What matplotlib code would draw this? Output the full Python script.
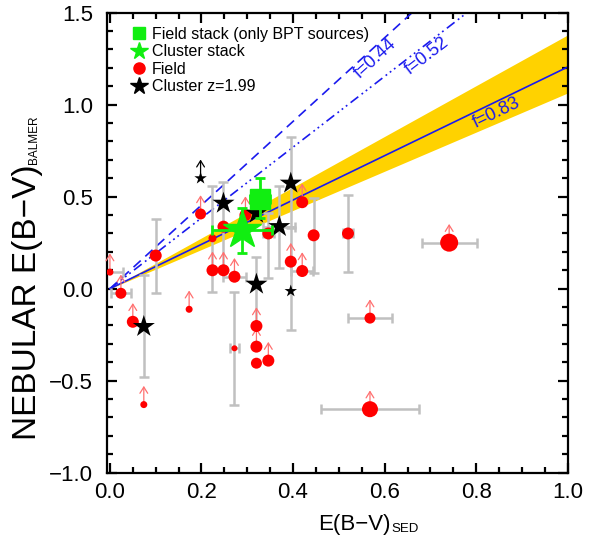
import matplotlib
matplotlib.use('Agg')
import matplotlib.pyplot as plt
import matplotlib.transforms as mtransforms
from matplotlib.lines import Line2D
from matplotlib.ticker import MultipleLocator
import numpy as np

plt.rcParams['font.family'] = ['Liberation Sans', 'DejaVu Sans']
plt.rcParams['lines.scale_dashes'] = False

# Field galaxies (red circles)
field_x = [0.000, 0.024, 0.050, 0.074, 0.100, 0.173, 0.198, 0.224, 0.224, 0.248, 0.248, 0.272, 0.272, 0.296,
           0.320, 0.320, 0.320, 0.346, 0.346, 0.395, 0.420, 0.420, 0.445, 0.520, 0.568, 0.741, 0.568]
field_y = [0.09, -0.025, -0.18, -0.63, 0.18, -0.112, 0.406, 0.274, 0.10, 0.10, 0.337, 0.065, -0.324, 0.40,
           -0.203, -0.315, -0.405, -0.391, 0.30, 0.147, 0.096, 0.47, 0.29, 0.30, -0.16, 0.25, -0.655]
field_xerr = [0.028, 0.022, 0, 0, 0, 0, 0, 0, 0, 0, 0, 0.026, 0.010, 0,
              0, 0, 0, 0, 0.012, 0, 0.024, 0, 0, 0.010, 0.049, 0.060, 0.108]
field_yerr_lo = [0, 0, 0, 0, 0.205, 0, 0, 0.290, 0, 0, 0.237, 0, 0.306, 0,
                 0, 0, 0, 0, 0.243, 0, 0, 0, 0.206, 0.21, 0, 0, 0]
field_yerr_hi = [0, 0, 0, 0, 0.200, 0, 0, 0.286, 0, 0, 0.243, 0, 0.308, 0,
                 0, 0, 0, 0, 0.110, 0, 0, 0, 0.205, 0.21, 0, 0, 0]
field_lowlim = [1, 1, 1, 1, 0, 1, 1, 0, 1, 1, 0, 1, 0, 1,
                1, 1, 0, 1, 0, 1, 1, 1, 0, 0, 1, 1, 1]
field_size = [7, 11, 12, 7, 12, 7, 11, 8, 12, 12, 12, 12, 6, 12,
              12, 12, 11, 12, 12, 12, 12, 12, 12, 12, 11, 18, 16]

# Cluster z=1.99 members (black stars)
clus_x = [0.074, 0.198, 0.248, 0.320, 0.320, 0.370, 0.395, 0.395]
clus_y = [-0.206, 0.60, 0.464, 0.41, 0.024, 0.337, 0.573, -0.013]
clus_xerr = [0, 0, 0, 0, 0, 0.035, 0, 0]
clus_yerr_lo = [0.274, 0, 0, 0, 0.22, 0.227, 0.245, 0.21]
clus_yerr_hi = [0.280, 0, 0, 0, 0.15, 0.223, 0.253, 0.35]
clus_lowlim = [0, 1, 0, 0, 0, 0, 0, 0]
clus_size = [16, 9, 16, 16, 16, 16, 16, 9]

# stacks
fstack_x, fstack_y = 0.328, 0.486
fstack_xerr, fstack_yerr = 0.022, [[0.103], [0.114]]
cstack_x, cstack_y = 0.288, 0.319
cstack_xerr, cstack_yerr = [[0.066], [0.065]], [[0.123], [0.121]]

# f = E(B-V)_star / E(B-V)_neb relations
f_values = [0.44, 0.52, 0.83]
f_band = [0.725, 0.94]

red = '#ff0000'
arrow_red = '#ff7070'
gray = '#c0c0c0'
green = '#11ee11'
blue = '#1a1aee'
gold = '#ffd200'
px = 0.72  # pixel -> points at dpi 100

W, H = 589, 542
fig = plt.figure(figsize=(W / 100, H / 100), dpi=100)
ax = fig.add_axes([0.1812, 0.1279, 0.7827, 0.8487])
ax.set_xlim(-0.007, 1.0)
ax.set_ylim(-1.0, 1.5)

# band and lines
xx = np.array([0.0, 1.0])
ax.fill_between(xx, xx / f_band[1], xx / f_band[0], color=gold, lw=0, zorder=1)
styles = [(0, (7, 4.5)), (0, (7, 3, 1.3, 2.5, 1.3, 2.5, 1.3, 3)), '-']
for f, ls in zip(f_values, styles):
    ax.plot(xx, xx / f, color=blue, lw=1.2, ls=ls, zorder=2)

label_pos = [(0.579, 1.250), (0.692, 1.265), (0.845, 0.955)]
for f, (tx, ty) in zip(f_values, label_pos):
    ang = np.degrees(np.arctan(1.0 / f))
    ax.text(tx, ty, 'f=%.2f' % f, color=blue, fontsize=13, ha='center', va='center',
            rotation=ang, transform_rotates_text=True, rotation_mode='anchor', zorder=2)


def draw_errors(x, y, xerr, ylo, yhi, color, lw, cap, z):
    x, y = np.asarray(x), np.asarray(y)
    xerr, ylo, yhi = np.asarray(xerr), np.asarray(ylo), np.asarray(yhi)
    m = xerr > 0
    ax.errorbar(x[m], y[m], xerr=xerr[m], fmt='none', ecolor=color, elinewidth=lw,
                capsize=cap, capthick=lw, zorder=z)
    m = (ylo > 0) | (yhi > 0)
    ax.errorbar(x[m], y[m], yerr=[ylo[m], yhi[m]], fmt='none', ecolor=color, elinewidth=lw,
                capsize=cap, capthick=lw, zorder=z)


draw_errors(field_x, field_y, field_xerr, field_yerr_lo, field_yerr_hi, gray, 1.8, 3.5, 3)
draw_errors(clus_x, clus_y, clus_xerr, clus_yerr_lo, clus_yerr_hi, gray, 1.8, 3.5, 3)

# lower-limit arrows
tr_up = mtransforms.offset_copy(ax.transData, fig=fig, x=0, y=13.5, units='points')


def draw_arrows(x, y, flags, color):
    for xi, yi, fl in zip(x, y, flags):
        if fl:
            ax.annotate('', xy=(xi, yi), xycoords=tr_up, xytext=(xi, yi), textcoords='data',
                        arrowprops=dict(arrowstyle='->,head_length=0.45,head_width=0.28',
                                        color=color, lw=0.9, shrinkA=0, shrinkB=0),
                        zorder=3)


draw_arrows(field_x, field_y, field_lowlim, arrow_red)
draw_arrows(clus_x, clus_y, clus_lowlim, 'black')

ax.scatter(field_x, field_y, s=(np.array(field_size) * px) ** 2, color=red, edgecolors='none', zorder=4)
ax.scatter(clus_x, clus_y, s=(np.array(clus_size) * px * 1.45) ** 2, marker='*', color='black',
           edgecolors='none', zorder=5)

ax.errorbar(fstack_x, fstack_y, xerr=fstack_xerr, yerr=fstack_yerr, fmt='s', color=green,
            ms=14, elinewidth=2, capsize=3.5, capthick=2, zorder=6)
ax.errorbar(cstack_x, cstack_y, xerr=cstack_xerr, yerr=cstack_yerr, fmt='*', color=green,
            ms=29, elinewidth=2, capsize=3.5, capthick=2, zorder=6)

# axes styling
for sp in ax.spines.values():
    sp.set_linewidth(1.6)
ax.xaxis.set_major_locator(MultipleLocator(0.2))
ax.xaxis.set_minor_locator(MultipleLocator(0.05))
ax.yaxis.set_major_locator(MultipleLocator(0.5))
ax.yaxis.set_minor_locator(MultipleLocator(0.1))
ax.tick_params(which='both', direction='in', top=True, right=True, width=1.6, labelsize=16)
ax.tick_params(axis='x', which='both', pad=7)
ax.tick_params(axis='y', which='both', pad=10)
ax.tick_params(which='major', length=7)
ax.tick_params(which='minor', length=4)

# axis titles: large main text with a small subscript
renderer = fig.canvas.get_renderer()


def fx(p):
    return p / W


def fy(p):
    return 1 - p / H


xl = fig.text(fx(318), fy(530), 'E(B\u2212V)', fontsize=16, ha='left', va='baseline')
bb = xl.get_window_extent(renderer=renderer)
fig.text(bb.x1 / W + 0.001, fy(532), 'SED', fontsize=9.5, ha='left', va='baseline')

yl = fig.text(fx(36), fy(440), 'NEBULAR E(B\u2212V)', fontsize=24, rotation=90,
              rotation_mode='anchor', ha='left', va='baseline')
bb = yl.get_window_extent(renderer=renderer)
fig.text(fx(37), bb.y1 / H + 0.001, 'BALMER', fontsize=8.5, rotation=90,
         rotation_mode='anchor', ha='left', va='baseline')

handles = [
    Line2D([], [], ls='none', marker='s', ms=8, color=green),
    Line2D([], [], ls='none', marker='*', ms=13, color=green),
    Line2D([], [], ls='none', marker='o', ms=8, color=red),
    Line2D([], [], ls='none', marker='*', ms=13, color='black'),
]
labels = ['Field stack (only BPT sources)', 'Cluster stack', 'Field', 'Cluster z=1.99']
ax.legend(handles, labels, loc='upper left', bbox_to_anchor=(0.022, 1.0), frameon=False,
          fontsize=11.5, handlelength=1.0, handletextpad=0.3, labelspacing=0.15,
          borderaxespad=0.5)

fig.savefig('out.png', dpi=100)
